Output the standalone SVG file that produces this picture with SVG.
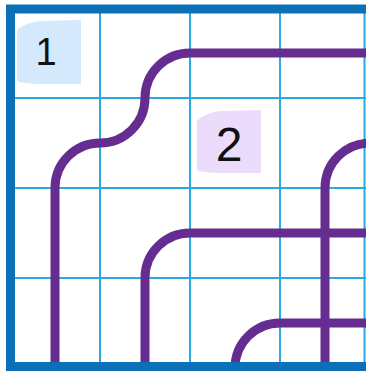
<svg xmlns="http://www.w3.org/2000/svg" width="366" height="371" viewBox="0 0 366 371">
<style>
.grid{stroke:#29abe2;stroke-width:2;fill:none}
.frame{stroke:#0b70b8;stroke-width:9;fill:none}
.route{stroke:#662d91;stroke-width:9;fill:none;stroke-linecap:butt}
.lbl{font-family:"Liberation Sans",Arial,sans-serif;fill:#111;text-anchor:middle}
</style>
<rect width="366" height="371" fill="#ffffff"/>
<g id="grid">
<path class="grid" d="M100,8V368M190,8V368M280,8V368M364.5,8V368M10,98H366M10,188H366M10,278H366"/>
</g>
<g id="label1">
<path d="M17,30 C24,24 34,21 44,21 L81,20 L81,84 L45,84 C30,84 20,83 17,81 Z" fill="#d4e9fc"/>
<text class="lbl" x="46" y="65" font-size="38">1</text>
</g>
<g id="label2">
<path d="M197,121 C204,114 214,111 224,111 L261,110 L261,173 L224,173 C210,173 201,172 197,170 Z" fill="#ecdcfc"/>
<text class="lbl" x="229" y="161" font-size="48">2</text>
</g>
<g id="connectors">
<path class="route" d="M55,375V188A45,45 0 0 1 100,143A45,45 0 0 0 145,98A45,45 0 0 1 190,53H370"/>
<path class="route" d="M145,375V278A45,45 0 0 1 190,233H370"/>
<path class="route" d="M325,375V188A45,45 0 0 1 370,143"/>
<path class="route" d="M235,375V368A45,45 0 0 1 280,323H370"/>
</g>
<g id="frame">
<path class="frame" d="M10.5,375V9H370M6,366.5H370"/>
</g>
</svg>
